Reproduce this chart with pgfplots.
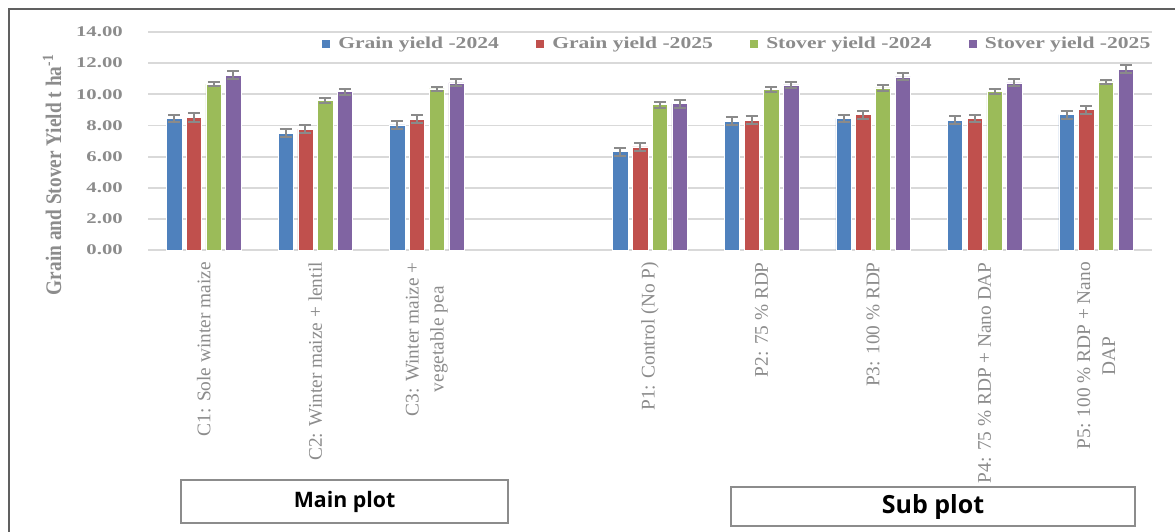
\documentclass[border=0pt]{standalone}
\usepackage{pgfplots}
\pgfplotsset{compat=1.18}
\usepackage{fontspec}
\setmainfont{Liberation Serif}
\newfontfamily\tickfont[FakeStretch=1.4]{Liberation Serif}
\newfontfamily\legfont[FakeStretch=1.3]{Liberation Serif}
\newfontfamily\boxfont{Open Sans}
\definecolor{cblue}{HTML}{4F81BD}
\definecolor{cred}{HTML}{C0504D}
\definecolor{cgreen}{HTML}{9BBB59}
\definecolor{cpurple}{HTML}{8064A2}
\definecolor{txtgray}{HTML}{8C8C8C}
\definecolor{errgray}{HTML}{8A8A8A}
\definecolor{gridgray}{HTML}{D9D9D9}
\definecolor{framegray}{HTML}{606060}
\definecolor{boxgray}{HTML}{8C8C8C}
\begin{document}
\begin{tikzpicture}
\path[use as bounding box] (0pt,0pt) rectangle (881.25pt,-399pt);
\draw[line width=1.3pt, framegray] (6.75pt,-400pt) -- (6.75pt,-6.75pt) -- (882pt,-6.75pt);
\begin{axis}[
  at={(111pt,-187.5pt)}, anchor=south west,
  scale only axis, width=753pt, height=163.5pt,
  xmin=-0.5, xmax=8.5, ymin=0, ymax=14,
  enlargelimits=false,
  axis line style={draw=none},
  major tick length=0pt,
  ymajorgrids,
  major grid style={line width=1.4pt, gridgray},
  ytick={0,2,4,6,8,10,12,14},
  yticklabels={0.00,2.00,4.00,6.00,8.00,10.00,12.00,14.00},
  yticklabel style={font=\tickfont\bfseries\fontsize{11.1}{13}\selectfont, text=txtgray, inner sep=0pt, anchor=east, xshift=-18.75pt},
  xtick={0,1,2,3,4,5,6,7,8},
  xticklabels={
    {C1: Sole winter maize},
    {C2: Winter maize + lentil},
    {C3: Winter maize +\\vegetable pea},
    {},
    {P1: Control (No P)},
    {P2: 75 \% RDP},
    {P3: 100 \% RDP},
    {P4: 75 \% RDP + Nano DAP},
    {P5: 100 \% RDP + Nano\\DAP}},
  xticklabel style={rotate=90, anchor=east, inner sep=0pt, align=center, text=txtgray, font=\fontsize{14.5}{18.75}\selectfont},
  xticklabel shift=9pt,
  ylabel={\scalebox{1}[1.15]{Grain and Stover Yield t ha\textsuperscript{-1}}},
  ylabel style={at={(axis description cs:-0.0956,0.345)}, anchor=center, font=\bfseries\fontsize{14.5}{17}\selectfont, text=txtgray},
  ybar=3.3pt, bar width=11.5pt,
  legend columns=4,
  legend style={draw=none, fill=none, at={(axis description cs:0.1733,0.945)}, anchor=west,
    inner sep=0pt, nodes={inner sep=0pt}, font=\legfont\bfseries\fontsize{12.45}{15}\selectfont, text=txtgray,
    /tikz/every even column/.append style={column sep=0pt}},
  legend image code/.code={\fill[#1, draw=none] (0pt,-3pt) rectangle (6pt,3pt);},
  error bars/y dir=both, error bars/y explicit,
  error bars/error bar style={line width=1.5pt, errgray},
  error bars/error mark options={rotate=90, line width=1.5pt, mark size=4.5pt, errgray},
]
\addplot[fill=cblue, draw=white, line width=0.4pt] coordinates {
  (0,8.45) +- (0,0.25) (1,7.51) +- (0,0.25) (2,8.03) +- (0,0.25)
  (4,6.31) +- (0,0.25) (5,8.26) +- (0,0.25) (6,8.45) +- (0,0.25)
  (7,8.33) +- (0,0.25) (8,8.69) +- (0,0.25)};
\addlegendentry{\makebox[154.5pt][l]{\hspace{6pt}Grain yield -2024}}
\addplot[fill=cred, draw=white, line width=0.4pt] coordinates {
  (0,8.52) +- (0,0.27) (1,7.77) +- (0,0.25) (2,8.41) +- (0,0.25)
  (4,6.63) +- (0,0.25) (5,8.33) +- (0,0.25) (6,8.69) +- (0,0.25)
  (7,8.45) +- (0,0.25) (8,9.01) +- (0,0.25)};
\addlegendentry{\makebox[154.5pt][l]{\hspace{6pt}Grain yield -2025}}
\addplot[fill=cgreen, draw=white, line width=0.4pt] coordinates {
  (0,10.66) +- (0,0.15) (1,9.59) +- (0,0.15) (2,10.34) +- (0,0.15)
  (4,9.33) +- (0,0.18) (5,10.30) +- (0,0.18) (6,10.41) +- (0,0.18)
  (7,10.17) +- (0,0.18) (8,10.79) +- (0,0.15)};
\addlegendentry{\makebox[158pt][l]{\hspace{6pt}Stover yield -2024}}
\addplot[fill=cpurple, draw=white, line width=0.4pt] coordinates {
  (0,11.22) +- (0,0.25) (1,10.17) +- (0,0.2) (2,10.73) +- (0,0.22)
  (4,9.40) +- (0,0.25) (5,10.60) +- (0,0.22) (6,11.12) +- (0,0.22)
  (7,10.73) +- (0,0.22) (8,11.61) +- (0,0.25)};
\addlegendentry{\hspace{6pt}Stover yield -2025}
\end{axis}
\draw[line width=1.1pt, boxgray] (135.75pt,-360pt) rectangle (381pt,-392.25pt);
\node[font=\boxfont\bfseries\fontsize{16}{19}\selectfont, text=black] at (258.4pt,-376.1pt) {Main plot};
\draw[line width=1.1pt, boxgray] (548.25pt,-365.25pt) rectangle (851.25pt,-394.5pt);
\node[font=\boxfont\bfseries\fontsize{18.75}{22}\selectfont, text=black] at (699.75pt,-379.9pt) {Sub plot};
\end{tikzpicture}
\end{document}
